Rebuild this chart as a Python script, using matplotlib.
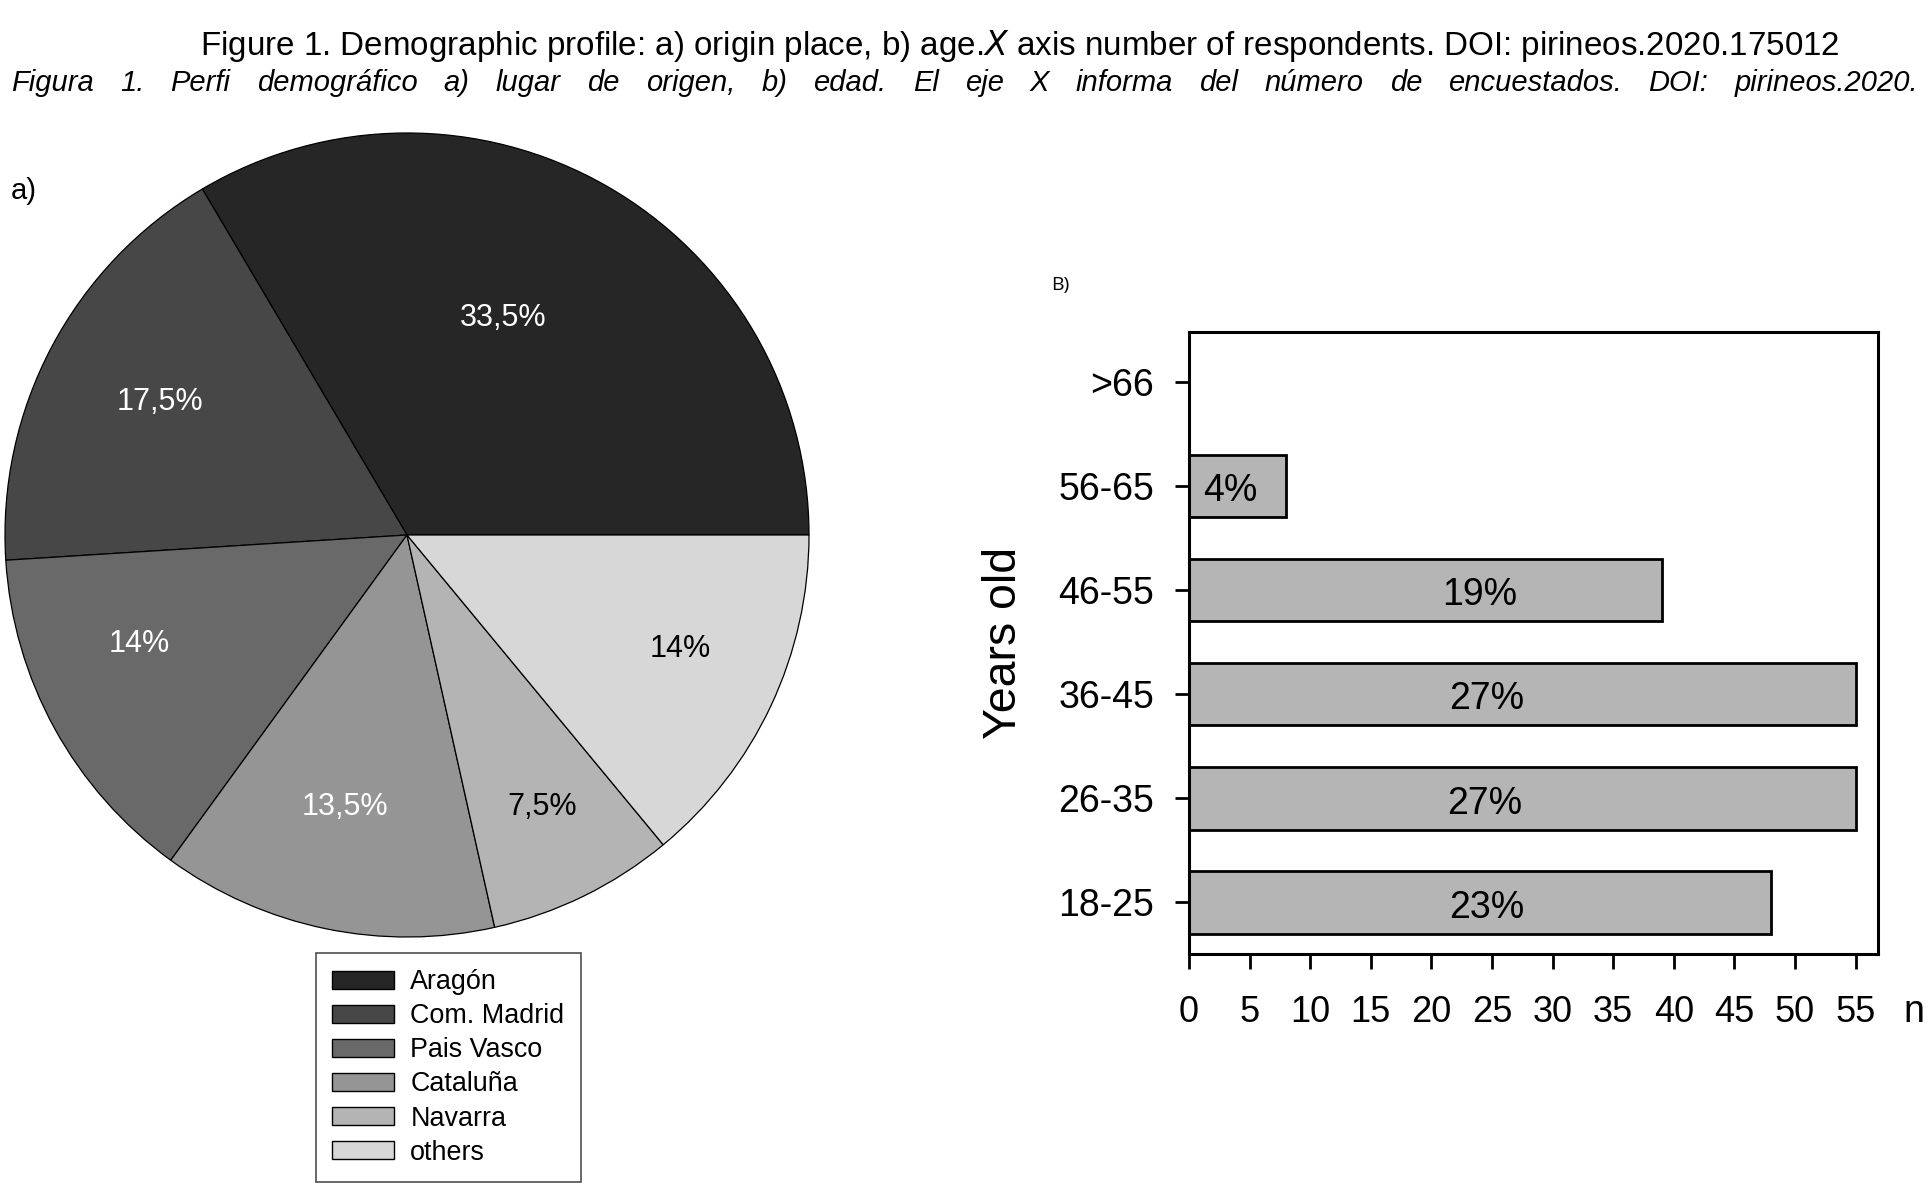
import matplotlib
matplotlib.use('Agg')
import matplotlib.pyplot as plt
from matplotlib.patches import Patch
import numpy as np

plt.rcParams['font.family'] = ['Liberation Sans', 'DejaVu Sans']

# ---------------- data ----------------
regions = ['Aragón', 'Com. Madrid', 'Pais Vasco', 'Cataluña', 'Navarra', 'others']
region_pct = [33.5, 17.5, 14, 13.5, 7.5, 14]
region_labels = ['33,5%', '17,5%', '14%', '13,5%', '7,5%', '14%']
region_colors = ['#262626', '#474747', '#696969', '#959595', '#b4b4b4', '#d7d7d7']
region_label_colors = ['white', 'white', 'white', 'white', 'black', 'black']

age_groups = ['18-25', '26-35', '36-45', '46-55', '56-65', '>66']
age_counts = [48, 55, 55, 39, 8, 0]
age_pct_labels = ['23%', '27%', '27%', '19%', '4%', '']
x_ticks = [0, 5, 10, 15, 20, 25, 30, 35, 40, 45, 50, 55]

title1 = 'Figure 1. Demographic profile: a) origin place, b) age.$\\it{X}$ axis number of respondents. DOI: pirineos.2020.175012'
title2 = 'Figura 1. Perfi demográfico a) lugar de origen, b) edad. El eje X informa del número de encuestados. DOI: pirineos.2020.'

# ---------------- layout ----------------
W, H = 1928, 1191
fig = plt.figure(figsize=(W / 100, H / 100), dpi=100)


def fx(px):
    return px / W


def fy(py):
    return 1 - py / H


# pie label positions (in pie-radius units, relative to centre)
pie_label_pos = [(0.238, 0.540), (-0.614, 0.331), (-0.667, -0.272),
                 (-0.154, -0.677), (0.337, -0.677), (0.680, -0.284)]
# bar label x positions (data units)
bar_label_x = [24.6, 24.4, 24.6, 24.0, 3.4, 0]
bar_label_dy = -0.05

# ---------------- pie ----------------
cx, cy, r = 407, 535, 402
ax1 = fig.add_axes([fx(cx - r), fy(cy + r), 2 * r / W, 2 * r / H])
wedges, _ = ax1.pie(region_pct, colors=region_colors, startangle=0,
                    counterclock=True,
                    wedgeprops=dict(edgecolor='black', linewidth=0.9))
ax1.set_xlim(-1, 1)
ax1.set_ylim(-1, 1)
for lab, col, (lx, ly) in zip(region_labels, region_label_colors, pie_label_pos):
    ax1.text(lx, ly, lab, color=col, fontsize=22, ha='center', va='center')

fig.text(fx(24), fy(191), 'a)', fontsize=21, ha='center', va='center')

handles = [Patch(facecolor=c, edgecolor='black', linewidth=1.0, label=l)
           for c, l in zip(region_colors, regions)]
leg = fig.legend(handles=handles, loc='upper left',
                 bbox_to_anchor=(fx(316), fy(953)), borderaxespad=0,
                 frameon=True, fancybox=False, fontsize=19.4,
                 handlelength=2.3, handleheight=0.65, handletextpad=0.6,
                 labelspacing=0.3, borderpad=0.6)
leg.get_frame().set_edgecolor('#222222')
leg.get_frame().set_linewidth(1.2)

# ---------------- bar chart ----------------
ax2 = fig.add_axes([fx(1189), fy(954), (1878 - 1189) / W, (954 - 332) / H])
y = np.arange(len(age_groups))
ax2.barh(y, age_counts, height=0.6, color='#b5b5b5', edgecolor='black',
         linewidth=2.0)
ax2.set_xlim(0, 56.85)
ax2.set_ylim(-0.495, 5.48)
ax2.set_xticks(x_ticks)
ax2.set_xticklabels([str(t) for t in x_ticks])
ax2.set_yticks(y)
ax2.set_yticklabels(age_groups)
ax2.tick_params(axis='x', direction='out', length=10.8, width=2.0,
                labelsize=26, pad=19)
ax2.tick_params(axis='y', direction='out', length=10.0, width=2.0,
                labelsize=27, pad=15)
for s in ax2.spines.values():
    s.set_linewidth(2.2)
for yi, lab, lx in zip(y, age_pct_labels, bar_label_x):
    if lab:
        ax2.text(lx, yi + bar_label_dy, lab, fontsize=27, ha='center',
                 va='center')

fig.text(fx(1004), fy(643), 'Years old', rotation=90, fontsize=33.5,
         ha='center', va='center')
fig.text(fx(1903), fy(1022), 'n', fontsize=27, ha='left', va='baseline')
fig.text(fx(1060), fy(285), 'B)', fontsize=14, ha='center', va='center',
         family=['Open Sans', 'DejaVu Sans'])

# ---------------- titles ----------------
renderer = fig.canvas.get_renderer()
t1 = fig.text(fx(1020), fy(55), title1, fontsize=19, ha='center',
              va='baseline')
w1 = t1.get_window_extent(renderer).width
t1.set_fontsize(19 * (1840 - 200) / w1)

words = title2.split(' ')
x0, x1 = 11, 1918
wtexts = [fig.text(0, fy(91), w, fontsize=21, style='italic', ha='left',
                   va='baseline') for w in words]
widths = [t.get_window_extent(renderer).width for t in wtexts]
gap = (x1 - x0 - sum(widths)) / (len(words) - 1)
xc = x0
for t, w in zip(wtexts, widths):
    t.set_x(fx(xc))
    xc += w + gap

fig.savefig('out.png', dpi=100, facecolor='white')
